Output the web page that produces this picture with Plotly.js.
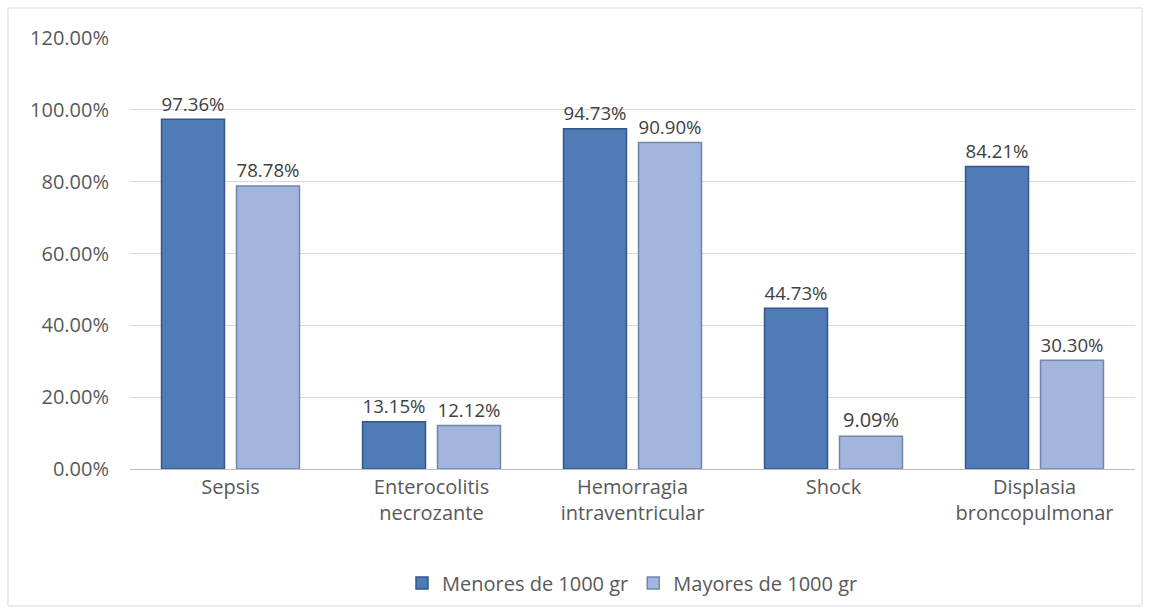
<!DOCTYPE html>
<html>
<head>
<meta charset="utf-8">
<script src="https://cdn.plot.ly/plotly-3.0.1.min.js"></script>
<style>
html,body{margin:0;padding:0;background:#fff;}
#chart{width:1150px;height:616px;}
</style>
</head>
<body>
<div id="chart"></div>
<script>
const categories = ["Sepsis", "Enterocolitis<br>necrozante", "Hemorragia<br>intraventricular", "Shock", "Displasia<br>broncopulmonar"];
const seriesNames = ["Menores de 1000 gr", "Mayores de 1000 gr"];
const menores = [0.9736, 0.1315, 0.9473, 0.4473, 0.8421];
const mayores = [0.7878, 0.1212, 0.9090, 0.0909, 0.3030];
const yTicks = [0, 0.2, 0.4, 0.6, 0.8, 1.0, 1.2];

const font = "Open Sans, sans-serif";
function trace(name, vals, color, edge) {
  return {
    type: "bar", name: name, x: categories, y: vals,
    marker: {color: color, line: {color: edge, width: 1.5}},
    texttemplate: "%{y:.2%}", textposition: "outside",
    textfont: {family: font, size: 20, color: "#404040"},
    cliponaxis: false, hoverinfo: "skip"
  };
}
const data = [
  trace(seriesNames[0], menores, "#4F7BB6", "#35578A"),
  trace(seriesNames[1], mayores, "#A1B5DE", "#7486A8")
];
const W = 1005, H = 431, L = 130, T = 38;
function px(x){return (x - L)/W;}
function py(y){return (T + H - y)/H;}
const layout = {
  width: 1150, height: 616,
  margin: {l: L, r: 15, t: T, b: 147},
  paper_bgcolor: "#fff", plot_bgcolor: "#fff",
  barmode: "group", bargap: 0.254, bargroupgap: 0.16,
  font: {family: font, size: 20, color: "#595959"},
  showlegend: true,
  legend: {orientation: "h", x: 0.5, xanchor: "center", y: py(583), yanchor: "middle",
           font: {family: font, size: 20, color: "#595959"}, traceorder: "normal",
           itemwidth: 30},
  xaxis: {tickfont: {family: font, size: 20, color: "#595959"}, showgrid: false,
          showline: true, linecolor: "#bfbfbf", linewidth: 1, ticks: "", fixedrange: true},
  yaxis: {range: [0, 1.2], tickvals: yTicks, tickformat: ".2%",
          tickfont: {family: font, size: 20, color: "#595959"},
          showgrid: true, gridcolor: "#d9d9d9", gridwidth: 1, zeroline: false,
          showline: false, ticks: "", ticklabelstandoff: 20, fixedrange: true},
  shapes: [{type: "rect", xref: "paper", yref: "paper",
            x0: px(8), x1: px(1142), y0: py(606), y1: py(8),
            line: {color: "#d9d9d9", width: 1}, fillcolor: "rgba(0,0,0,0)", layer: "below"}]
};
Plotly.newPlot("chart", data, layout, {displayModeBar: false, staticPlot: true});
</script>
</body>
</html>
